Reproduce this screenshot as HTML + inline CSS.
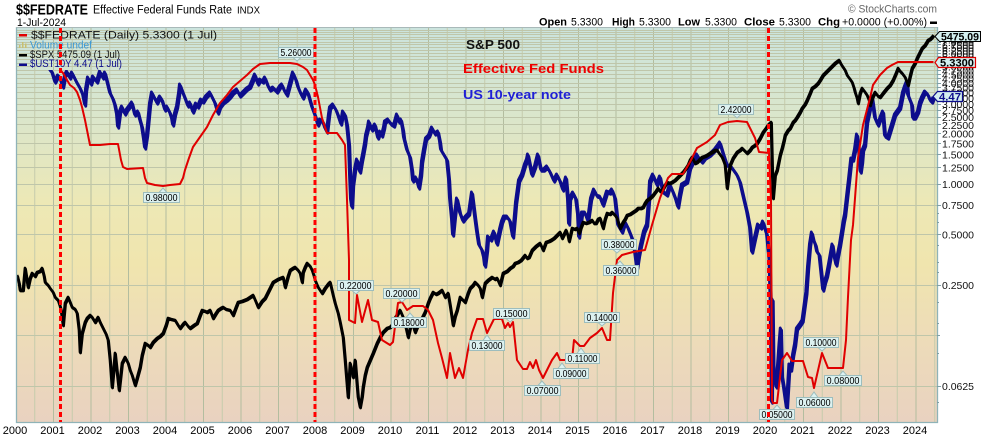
<!DOCTYPE html>
<html><head><meta charset="utf-8"><style>
html,body{margin:0;padding:0;background:#fff;}
svg{display:block;font-family:"Liberation Sans",Arial,sans-serif;}
</style></head><body>
<svg width="990" height="438" viewBox="0 0 990 438" xmlns="http://www.w3.org/2000/svg" xmlns:xlink="http://www.w3.org/1999/xlink">
<defs>
<linearGradient id="bg" gradientUnits="userSpaceOnUse" x1="0" y1="27" x2="0" y2="422">
<stop offset="0" stop-color="#cbe4de"/>
<stop offset="0.25" stop-color="#dce6c9"/>
<stop offset="0.45" stop-color="#ede8b5"/>
<stop offset="0.6" stop-color="#f0e5ae"/>
<stop offset="0.8" stop-color="#eddbb9"/>
<stop offset="1" stop-color="#e9d2c0"/>
</linearGradient>
<clipPath id="plotclip"><rect x="16" y="27" width="921" height="395"/></clipPath>
<clipPath id="legclip"><rect x="16.5" y="28" width="202" height="42"/></clipPath>
</defs>
<rect x="0" y="0" width="990" height="438" fill="#fff"/>
<rect x="16" y="27" width="921" height="395" fill="url(#bg)"/>
<g id="grid" stroke-width="1" fill="none">
<g stroke="#c5cbac">
<path d="M34.75 27V422M72.25 27V422M109.75 27V422M147.25 27V422M184.75 27V422M222.25 27V422M259.75 27V422M297.25 27V422M334.75 27V422M372.25 27V422M409.75 27V422M447.25 27V422M484.75 27V422M522.25 27V422M559.75 27V422M597.25 27V422M634.75 27V422M672.25 27V422M709.75 27V422M747.25 27V422M784.75 27V422M822.25 27V422M859.75 27V422M897.25 27V422M934.75 27V422"/>
</g>
<g stroke="#b3bd9f">
<path d="M53.5 27V422M91 27V422M128.5 27V422M166 27V422M203.5 27V422M241 27V422M278.5 27V422M316 27V422M353.5 27V422M391 27V422M428.5 27V422M466 27V422M503.5 27V422M541 27V422M578.5 27V422M616 27V422M653.5 27V422M691 27V422M728.5 27V422M766 27V422M803.5 27V422M841 27V422M878.5 27V422M916 27V422"/>
</g>
<g stroke="#bfc6aa">
<path d="M16 386.5H937M16 335.5H937M16 285.5H937M16 234.5H937M16 205.5H937M16 184.5H937M16 167.5H937M16 154.5H937M16 143.5H937M16 133.5H937M16 124.5H937M16 117.5H937M16 110.5H937M16 104.5H937M16 98.5H937M16 92.5H937M16 87.5H937M16 83.5H937M16 78.5H937M16 74.5H937M16 70.5H937M16 66.5H937M16 63.5H937M16 59.5H937M16 56.5H937M16 53.5H937M16 50.5H937M16 47.5H937M16 44.5H937M16 42.5H937M16 39.5H937M16 37.5H937M16 34.5H937M16 32.5H937M16 30.5H937"/>
</g>
</g>

<g clip-path="url(#plotclip)" fill="none" stroke-linejoin="round">
<!-- UST10Y navy -->
<polyline id="navy" stroke="#0d0d8c" stroke-width="2.8" points="16,42 20,45 25,40 30,50 35,52 40,58 45,62 50,70 52,72 55,82 58,76 60,78 63,87 65,76 67,72 70,78 72,73 75,79 77,83 80,88 83,95 85,105 86,90 88,78 91,84 93,77 97,82 100,72 103,78 105,73 108,85 110,93 113,99 115,105 117,115 118,127 120,112 122,107 125,114 127,110 130,106 132,103 135,115 138,112 140,120 142,127 144,140 145,148 147,135 148,125 150,104 152,93 155,99 157,103 160,97 162,100 165,110 167,107 170,113 172,119 173,125 175,114 177,107 179,94 180,85 183,93 185,98 188,106 190,103 193,112 196,104 198,107 201,100 203,102 206,97 210,93 213,99 215,103 218,113 220,107 223,103 227,100 230,97 233,93 237,90 240,96 243,93 247,89 250,87 253,80 255,75 258,84 260,80 263,82 265,78 268,86 270,90 273,88 277,92 280,87 282,85 285,92 287,95 290,84 293,73 296,80 298,87 301,94 303,98 306,90 308,93 310,100 312,107 315,115 318,125 320,120 323,122 325,128 327,132 329,115 330,108 333,105 336,110 338,115 341,124 343,112 345,115 347,125 349,145 350,175 351,200 352,207 353,185 355,170 357,160 359,168 360,172 362,160 363,155 365,144 366,136 368,128 369,122 371,128 372,130 375,125 378,138 380,132 382,136 384,128 385,122 388,120 391,124 394,126 397,115 399,122 401,120 403,130 404,138 407,150 410,157 412,170 413,181 416,178 418,184 419,188 421,175 422,162 424,150 426,139 429,136 432,128 435,134 438,132 440,142 441,150 444,155 447,160 449,180 450,199 452,220 453,235 455,215 457,199 460,213 463,221 466,217 469,214 472,193 475,217 477,232 479,245 482,250 484,258 485,266 487,250 488,237 491,240 494,232 497,244 500,230 502,222 504,217 507,217 510,221 513,237 515,215 516,203 519,181 522,175 525,165 527,160 528,155 530,165 532,175 535,167 538,155 541,170 544,170 547,167 550,172 554,181 557,175 560,181 563,190 566,178 568,200 569,224 570,199 573,193 576,199 578,215 579,237 582,213 585,213 588,221 591,199 594,190 597,196 600,197 603,205 607,192 610,193 612,190 615,198 618,225 622,232 625,222 628,228 632,238 635,252 637,268 639,255 641,245 644,232 647,225 649,200 650,182 653,175 657,185 660,177 663,192 667,195 670,185 673,192 676,200 678,207 680,195 682,185 687,182 690,168 693,162 697,155 700,160 702,162 705,158 710,155 715,150 718,146 720,143 723,153 727,165 732,168 737,175 740,182 743,195 747,212 750,228 752,252 755,238 758,225 761,228 763,222 767,235 768,245 769.5,260 770.6,300 771.8,402 772.5,300 773.3,365 774.4,376 776.3,387 778.1,365 779.5,345 780.8,329 781.9,376 783.8,387 785.6,400 786.8,408 789.4,365 791,370 793.1,355 795,345 796.9,329 800.6,324 802.5,321 804,310 806.3,293 808,268 810,245 811.9,233 813.5,240 815.6,245 817,252 819.4,255 821,270 823.1,290 825,282 826.9,276 829,265 832.5,245 834,255 836.3,265 838,255 840,245 843.8,221 845,215 847.5,193 849,180 851.3,159 853,160 855,150 857,135 859,150 860.6,172 862,162 863,150 865,145 867,122 870,108 872,97 875,118 878,125 881,117 883,112 885,136 888,138 892,125 895,115 900,108 903,93 905,87 907,82 908,95 912,105 913,118 915,118 918,112 920,103 922,98 925,92 928,95 930,100 932,102 933.5,98"/>
<use href="#navy" xlink:href="#navy" transform="translate(0.8,1.3)"/>
<use href="#navy" xlink:href="#navy" transform="translate(-0.6,-1.1)"/>
<!-- SPX black -->
<polyline id="spx" stroke="#000" stroke-width="2.7" points="17,275 19,283 20,290 23,290 25,268 28,287 30,278 32,273 35,276 37,272 40,271 42,268 44,276 45,282 48,285 50,288 53,292 55,297 58,300 60,306 61,310 63,325 65,303 68,297 70,302 72,307 75,309 77,313 79,330 80,352 82,333 85,322 87,318 90,315 92,317 95,322 98,317 100,322 103,328 106,334 108,340 110,360 112,387 114,365 115,353 117,372 119,390 121,372 122,363 125,357 128,363 130,370 132,375 135,385 137,378 140,367 142,355 145,343 148,345 150,347 153,342 157,338 160,336 163,333 166,325 168,318 171,319 175,320 178,325 180,328 183,324 185,322 188,326 190,328 194,325 197,323 200,315 202,310 205,311 207,312 210,310 213,318 216,313 218,310 221,308 223,307 226,309 230,310 233,315 236,307 238,302 242,301 247,299 250,297 253,295 256,302 258,307 262,301 265,298 269,290 273,282 278,279 283,277 285,287 288,276 290,270 293,268 295,267 298,270 300,273 302,282 303,272 305,267 307,263 310,266 312,270 314,276 315,280 318,287 320,290 322,293 325,288 328,284 330,282 333,295 335,303 338,313 340,322 343,337 345,360 348,397 350,363 352,372 353,377 355,360 357,385 358,397 360,407 362,396 363,387 365,375 367,367 370,360 373,353 375,348 377,343 380,337 383,332 387,328 390,327 392,325 395,318 398,313 400,310 403,317 406,328 408,337 410,328 412,322 415,332 417,327 420,322 423,316 425,312 428,303 430,298 433,292 436,294 438,293 442,290 445,297 448,293 450,305 452,318 453,325 455,316 457,310 460,297 463,300 465,302 468,293 470,288 473,285 475,282 478,285 480,288 482,297 485,283 488,280 492,277 495,279 497,278 500,285 503,273 507,271 510,268 513,266 515,263 518,262 521,260 525,255 527,258 529,257 532,250 536,246 540,243 543,250 546,242 549,241 551,240 554,238 557,235 560,232 562,238 564,234 566,230 568,236 569,241 572,228 575,229 577,228 579,233 581,227 583,222 586,223 589,222 592,220 594,223 596,223 598,219 600,218 602,225 603,228 605,219 607,213 610,214 612,212 615,215 617,218 620,228 623,222 625,219 627,215 630,214 633,212 636,210 638,208 641,208 643,207 645,203 647,200 650,198 653,195 656,191 658,188 660,191 662,190 665,185 667,182 670,183 672,182 675,180 677,178 680,175 683,172 686,168 688,165 690,160 692,157 695,163 697,162 700,159 702,157 705,156 707,155 710,153 712,152 715,150 717,150 719,153 722,157 724,162 725,165 727,188 729,172 730,165 733,158 735,155 737,152 740,150 742,148 745,151 747,153 750,150 752,147 755,145 757,143 760,138 763,132 766,128 768,125 771,122 772,165 773,198 775,175 777,170 778,165 780,155 782,148 784,140 785,135 788,130 790,128 793,122 795,120 797,117 800,112 802,108 805,104 807,100 810,93 812,88 815,86 818,83 820,80 823,75 826,72 830,68 833,65 835,63 839,60 841,64 843,67 845,70 847,75 850,79 852,82 854,88 855,92 857,98 858,103 860,93 862,88 865,92 867,95 869,100 870,105 872,98 875,92 878,96 880,97 883,93 887,88 890,85 893,80 896,73 898,68 900,71 902,73 905,77 908,85 910,76 912,68 915,63 917,58 920,52 922,48 925,45 928,40 930,39 932,37 933.5,35"/>
<use href="#spx" xlink:href="#spx" transform="translate(0.6,1)"/>
<!-- FEDRATE red -->
<polyline stroke="#e00000" stroke-width="2" points="16,60 22,55 28,52 33,48 50,48 53,60 57,67 60,70 63,73 67,80 70,85 74,88 77,92 80,100 82,107 85,120 87,130 90,145 100,145 110,144 118,144 121,160 123,167 127,169 143,168 145,178 147,183 155,185 163,186 170,185 180,184 183,178 185,170 189,158 193,147 200,137 207,127 213,115 220,103 227,95 233,87 240,81 247,75 253,69 260,64 270,63 280,63 290,63 297,64 303,67 307,70 310,75 313,80 315,85 318,97 322,118 327,133 337,133 342,140 345,145 347,200 349,260 349,320 355,323 357,295 362,322 368,300 372,320 378,322 382,340 390,345 393,342 398,303 402,302 407,310 413,306 423,306 428,310 433,320 438,343 442,358 447,378 450,353 455,378 459,368 463,378 468,350 472,333 477,319 483,319 487,333 494,319 502,319 505,328 508,323 510,327 513,322 517,360 523,369 527,369 530,362 533,368 536,360 539,370 543,378 547,370 552,360 557,353 560,360 572,360 574,340 580,346 584,346 590,338 597,333 602,328 607,340 610,340 613,293 617,260 622,255 633,252 645,250 652,225 660,198 668,178 672,174 683,174 690,162 697,148 707,142 715,135 720,125 728,122 737,121 747,122 755,138 759,152 769,153 771,200 772,400 773,403 777,403 782,360 787,353 792,361 803,361 808,377 812,378 814,388 822,353 828,368 843,368 846,340 848,297 851,240 853,225 858,158 863,125 870,98 873,85 880,75 887,68 892,65 898,62 933.5,62"/>
</g>

<!-- opaque legend area -->
<rect x="16.5" y="28" width="202" height="42" fill="url(#bg)"/>
<g clip-path="url(#legclip)"><use href="#grid" xlink:href="#grid"/></g>

<!-- plot frame -->
<g fill="none" stroke="#8fb3b8" stroke-width="1.3">
<path d="M16.5 27V422.5H937.5V27"/>
</g>
<path d="M16 27.5H937" stroke="#a9b9b9" stroke-width="1"/>

<!-- right axis ticks -->
<g stroke="#7fa0a6" stroke-width="1">
<path d="M937 386.5h4M937 335.5h3M937 285.5h4M937 234.5h4M937 205.5h4M937 184.5h4M937 167.5h4M937 154.5h4M937 143.5h4M937 133.5h4M937 124.5h4M937 117.5h4M937 110.5h4M937 104.5h4M937 98.5h4M937 92.5h4M937 87.5h4M937 83.5h4M937 78.5h4M937 74.5h4M937 70.5h4M937 66.5h4M937 63.5h4M937 59.5h4M937 56.5h4M937 53.5h4M937 50.5h4M937 47.5h4M937 44.5h4M937 42.5h4M937 39.5h4M937 37.5h4"/>
<path d="M937 213.5h2M937 222.5h2M937 245.5h2M937 262.5h2M937 272.5h2M937 302.5h2M937 323.5h2M937 353.5h2M937 402.5h2"/>
</g>
<g font-size="10.5" fill="#111">
<text x="942" y="390" textLength="32" lengthAdjust="spacingAndGlyphs">0.0625</text>
<text x="942" y="289" textLength="32" lengthAdjust="spacingAndGlyphs">0.2500</text>
<text x="942" y="238.5" textLength="32" lengthAdjust="spacingAndGlyphs">0.5000</text>
<text x="942" y="209" textLength="32" lengthAdjust="spacingAndGlyphs">0.7500</text>
<text x="942" y="188" textLength="32" lengthAdjust="spacingAndGlyphs">1.0000</text>
<text x="942" y="171.5" textLength="32" lengthAdjust="spacingAndGlyphs">1.2500</text>
<text x="942" y="158.5" textLength="32" lengthAdjust="spacingAndGlyphs">1.5000</text>
<text x="942" y="147.5" textLength="32" lengthAdjust="spacingAndGlyphs">1.7500</text>
<text x="942" y="137.5" textLength="32" lengthAdjust="spacingAndGlyphs">2.0000</text>
<text x="942" y="129" textLength="32" lengthAdjust="spacingAndGlyphs">2.2500</text>
<text x="942" y="121" textLength="32" lengthAdjust="spacingAndGlyphs">2.5000</text>
<text x="942" y="114" textLength="32" lengthAdjust="spacingAndGlyphs">2.7500</text>
<text x="942" y="108" textLength="32" lengthAdjust="spacingAndGlyphs">3.0000</text>
<text x="942" y="102" textLength="32" lengthAdjust="spacingAndGlyphs">3.2500</text>
<text x="942" y="96.5" textLength="32" lengthAdjust="spacingAndGlyphs">3.5000</text>
<text x="942" y="91.5" textLength="32" lengthAdjust="spacingAndGlyphs">3.7500</text>
<text x="942" y="87" textLength="32" lengthAdjust="spacingAndGlyphs">4.0000</text>
<text x="942" y="82.5" textLength="32" lengthAdjust="spacingAndGlyphs">4.2500</text>
<text x="942" y="78.5" textLength="32" lengthAdjust="spacingAndGlyphs">4.5000</text>
<text x="942" y="74.5" textLength="32" lengthAdjust="spacingAndGlyphs">4.7500</text>
<text x="942" y="70.5" textLength="32" lengthAdjust="spacingAndGlyphs">5.0000</text>
<text x="942" y="67" textLength="32" lengthAdjust="spacingAndGlyphs">5.2500</text>
<text x="942" y="63.5" textLength="32" lengthAdjust="spacingAndGlyphs">5.5000</text>
<text x="942" y="60.5" textLength="32" lengthAdjust="spacingAndGlyphs">5.7500</text>
<text x="942" y="57.5" textLength="32" lengthAdjust="spacingAndGlyphs">6.0000</text>
<text x="942" y="54.5" textLength="32" lengthAdjust="spacingAndGlyphs">6.2500</text>
<text x="942" y="51.5" textLength="32" lengthAdjust="spacingAndGlyphs">6.5000</text>
<text x="942" y="49" textLength="32" lengthAdjust="spacingAndGlyphs">6.7500</text>
<text x="942" y="46" textLength="32" lengthAdjust="spacingAndGlyphs">7.0000</text>
<text x="942" y="43.5" textLength="32" lengthAdjust="spacingAndGlyphs">7.2500</text>
<text x="942" y="41" textLength="32" lengthAdjust="spacingAndGlyphs">7.5000</text>
</g>

<!-- year labels -->
<g font-size="11" fill="#000" text-anchor="middle">
<text x="15" y="434">2000</text><text x="52.5" y="434">2001</text><text x="90" y="434">2002</text><text x="127.5" y="434">2003</text><text x="165" y="434">2004</text><text x="202.5" y="434">2005</text><text x="240" y="434">2006</text><text x="277.5" y="434">2007</text><text x="315" y="434">2008</text><text x="352.5" y="434">2009</text><text x="390" y="434">2010</text><text x="427.5" y="434">2011</text><text x="465" y="434">2012</text><text x="502.5" y="434">2013</text><text x="540" y="434">2014</text><text x="577.5" y="434">2015</text><text x="615" y="434">2016</text><text x="652.5" y="434">2017</text><text x="690" y="434">2018</text><text x="727.5" y="434">2019</text><text x="765" y="434">2020</text><text x="802.5" y="434">2021</text><text x="840" y="434">2022</text><text x="877.5" y="434">2023</text><text x="915" y="434">2024</text>
</g>

<!-- annotation labels -->
<g fill="#dcf1f0" stroke="#9dbdbd" stroke-width="1">
<g><rect x="278.5" y="47.5" width="35" height="10"/><polygon points="293,57.5 301,57.5 297,61"/></g>
<g><rect x="143.5" y="192.5" width="36" height="10"/><polygon points="159,192.5 167,192.5 163,188"/></g>
<g><rect x="718.5" y="104.5" width="35" height="10"/><polygon points="733,114.5 741,114.5 737,118"/></g>
<g><rect x="601.5" y="239.5" width="35" height="10"/><polygon points="613,249.5 621,249.5 617,253"/></g>
<g><rect x="603.5" y="265.5" width="35" height="10"/><polygon points="616,265.5 624,265.5 620,261"/></g>
<g><rect x="337.5" y="280.5" width="36" height="10"/><polygon points="352,290.5 360,290.5 356,294"/></g>
<g><rect x="383.5" y="288.5" width="36" height="10"/><polygon points="398,298.5 406,298.5 402,302"/></g>
<g><rect x="391.5" y="317.5" width="35" height="10"/><polygon points="406,317.5 414,317.5 410,313"/></g>
<g><rect x="493.5" y="308.5" width="36" height="10"/><polygon points="506,318.5 514,318.5 510,322"/></g>
<g><rect x="469.5" y="340.5" width="35" height="10"/><polygon points="483,340.5 491,340.5 487,335"/></g>
<g><rect x="584.5" y="312.5" width="35" height="10"/><polygon points="598,322.5 606,322.5 602,326"/></g>
<g><rect x="565.5" y="353.5" width="34" height="10"/><polygon points="577,353.5 585,353.5 581,348"/></g>
<g><rect x="553.5" y="368.5" width="35" height="10"/><polygon points="558,368.5 566,368.5 562,363"/></g>
<g><rect x="524.5" y="385.5" width="36" height="10"/><polygon points="538,385.5 546,385.5 542,381"/></g>
<g><rect x="759.5" y="409.5" width="35" height="10"/><polygon points="773,409.5 781,409.5 777,405"/></g>
<g><rect x="796.5" y="397.5" width="36" height="10"/><polygon points="810,397.5 818,397.5 814,392"/></g>
<g><rect x="803.5" y="337.5" width="35" height="10"/><polygon points="818,347.5 826,347.5 822,351"/></g>
<g><rect x="824.5" y="375.5" width="37" height="10"/><polygon points="839,375.5 847,375.5 843,371"/></g>
</g>
<g font-size="10" fill="#000">
<text x="280.5" y="56" textLength="31" lengthAdjust="spacingAndGlyphs">5.26000</text>
<text x="145.5" y="201" textLength="32" lengthAdjust="spacingAndGlyphs">0.98000</text>
<text x="720.5" y="113" textLength="31" lengthAdjust="spacingAndGlyphs">2.42000</text>
<text x="603.5" y="248" textLength="31" lengthAdjust="spacingAndGlyphs">0.38000</text>
<text x="605.5" y="274" textLength="31" lengthAdjust="spacingAndGlyphs">0.36000</text>
<text x="339.5" y="289" textLength="32" lengthAdjust="spacingAndGlyphs">0.22000</text>
<text x="385.5" y="297" textLength="32" lengthAdjust="spacingAndGlyphs">0.20000</text>
<text x="393.5" y="326" textLength="31" lengthAdjust="spacingAndGlyphs">0.18000</text>
<text x="495.5" y="317" textLength="32" lengthAdjust="spacingAndGlyphs">0.15000</text>
<text x="471.5" y="349" textLength="31" lengthAdjust="spacingAndGlyphs">0.13000</text>
<text x="586.5" y="321" textLength="31" lengthAdjust="spacingAndGlyphs">0.14000</text>
<text x="567.5" y="362" textLength="30" lengthAdjust="spacingAndGlyphs">0.11000</text>
<text x="555.5" y="377" textLength="31" lengthAdjust="spacingAndGlyphs">0.09000</text>
<text x="526.5" y="394" textLength="32" lengthAdjust="spacingAndGlyphs">0.07000</text>
<text x="761.5" y="418" textLength="31" lengthAdjust="spacingAndGlyphs">0.05000</text>
<text x="798.5" y="406" textLength="32" lengthAdjust="spacingAndGlyphs">0.06000</text>
<text x="805.5" y="346" textLength="31" lengthAdjust="spacingAndGlyphs">0.10000</text>
<text x="826.5" y="384" textLength="33" lengthAdjust="spacingAndGlyphs">0.08000</text>
</g>

<!-- right value boxes -->
<polygon points="935,36.5 939.5,31.5 980.5,31.5 980.5,41.5 939.5,41.5" fill="#d4efef" stroke="#000" stroke-width="1"/>
<text x="941" y="40.5" font-size="11" font-weight="bold" fill="#000" textLength="38" lengthAdjust="spacingAndGlyphs">5475.09</text>
<polygon points="935,62.5 938.5,57.5 975.5,57.5 975.5,67.5 938.5,67.5" fill="#d4efef" stroke="#e00000" stroke-width="1.2"/>
<text x="940" y="66.5" font-size="11" font-weight="bold" fill="#000" textLength="34" lengthAdjust="spacingAndGlyphs">5.3300</text>
<polygon points="933,96.5 937.5,91.5 962.5,91.5 962.5,101.5 937.5,101.5" fill="#d4efef" stroke="#0d0d8c" stroke-width="1.2"/>
<text x="939" y="100.5" font-size="11" font-weight="bold" fill="#0d0d8c" textLength="22" lengthAdjust="spacingAndGlyphs">4.47</text>

<!-- chart text annotations -->
<text x="466" y="49" font-size="13" font-weight="bold" fill="#111" textLength="54" lengthAdjust="spacingAndGlyphs">S&amp;P 500</text>
<text x="463" y="73" font-size="13" font-weight="bold" fill="#ee0000" textLength="141" lengthAdjust="spacingAndGlyphs">Effective Fed Funds</text>
<text x="463" y="99" font-size="13" font-weight="bold" fill="#1f1fd6" textLength="108" lengthAdjust="spacingAndGlyphs">US 10-year note</text>

<!-- legend -->
<rect x="19" y="34" width="8" height="2.5" fill="#e00000"/>
<text x="31" y="38.5" font-size="11" fill="#111" textLength="186" lengthAdjust="spacingAndGlyphs">$$FEDRATE (Daily) 5.3300 (1 Jul)</text>
<g fill="#c8c070"><rect x="19" y="45" width="1.5" height="3"/><rect x="22" y="42" width="1.5" height="6"/><rect x="25" y="43.5" width="1.5" height="4.5"/></g>
<text x="30" y="48.5" font-size="11" fill="#3a98d6" textLength="62" lengthAdjust="spacingAndGlyphs">Volume undef</text>
<rect x="19" y="54" width="8" height="2.5" fill="#000"/>
<text x="30" y="58" font-size="11" fill="#111" textLength="90" lengthAdjust="spacingAndGlyphs">$SPX 5475.09 (1 Jul)</text>
<rect x="19" y="63.5" width="8" height="2.5" fill="#0d0d8c"/>
<text x="30" y="67" font-size="11" fill="#0d0d8c" textLength="92" lengthAdjust="spacingAndGlyphs">$UST10Y 4.47 (1 Jul)</text>

<!-- recession dashed lines -->
<g stroke="#ff0000" stroke-width="3" stroke-dasharray="5 3" fill="none">
<path d="M60.5 28V422"/><path d="M315 28V422"/><path d="M768.5 28V422"/>
</g>

<!-- header -->
<text x="16" y="14.5" font-size="15" font-weight="bold" fill="#000" textLength="72" lengthAdjust="spacingAndGlyphs">$$FEDRATE</text>
<text x="93" y="13.5" font-size="11.5" fill="#000" textLength="139" lengthAdjust="spacingAndGlyphs">Effective Federal Funds Rate</text>
<text x="237" y="13.5" font-size="10" fill="#000" textLength="23" lengthAdjust="spacingAndGlyphs">INDX</text>
<text x="17" y="26" font-size="11" fill="#000" textLength="49" lengthAdjust="spacingAndGlyphs">1-Jul-2024</text>
<text x="848" y="12.5" font-size="11" fill="#666" textLength="89" lengthAdjust="spacingAndGlyphs">© StockCharts.com</text>
<g font-size="11" fill="#000">
<text x="539" y="25.5" font-weight="bold" textLength="28" lengthAdjust="spacingAndGlyphs">Open</text>
<text x="571" y="25.5" textLength="32" lengthAdjust="spacingAndGlyphs">5.3300</text>
<text x="612" y="25.5" font-weight="bold" textLength="23" lengthAdjust="spacingAndGlyphs">High</text>
<text x="639" y="25.5" textLength="32" lengthAdjust="spacingAndGlyphs">5.3300</text>
<text x="678" y="25.5" font-weight="bold" textLength="22" lengthAdjust="spacingAndGlyphs">Low</text>
<text x="705" y="25.5" textLength="32" lengthAdjust="spacingAndGlyphs">5.3300</text>
<text x="744" y="25.5" font-weight="bold" textLength="31" lengthAdjust="spacingAndGlyphs">Close</text>
<text x="779" y="25.5" textLength="32" lengthAdjust="spacingAndGlyphs">5.3300</text>
<text x="818" y="25.5" font-weight="bold" textLength="22" lengthAdjust="spacingAndGlyphs">Chg</text>
<text x="842" y="25.5" textLength="85" lengthAdjust="spacingAndGlyphs">+0.0000 (+0.00%)</text>
</g>
<rect x="930" y="21.5" width="7" height="2.5" fill="#000"/>
</svg>
</body></html>
